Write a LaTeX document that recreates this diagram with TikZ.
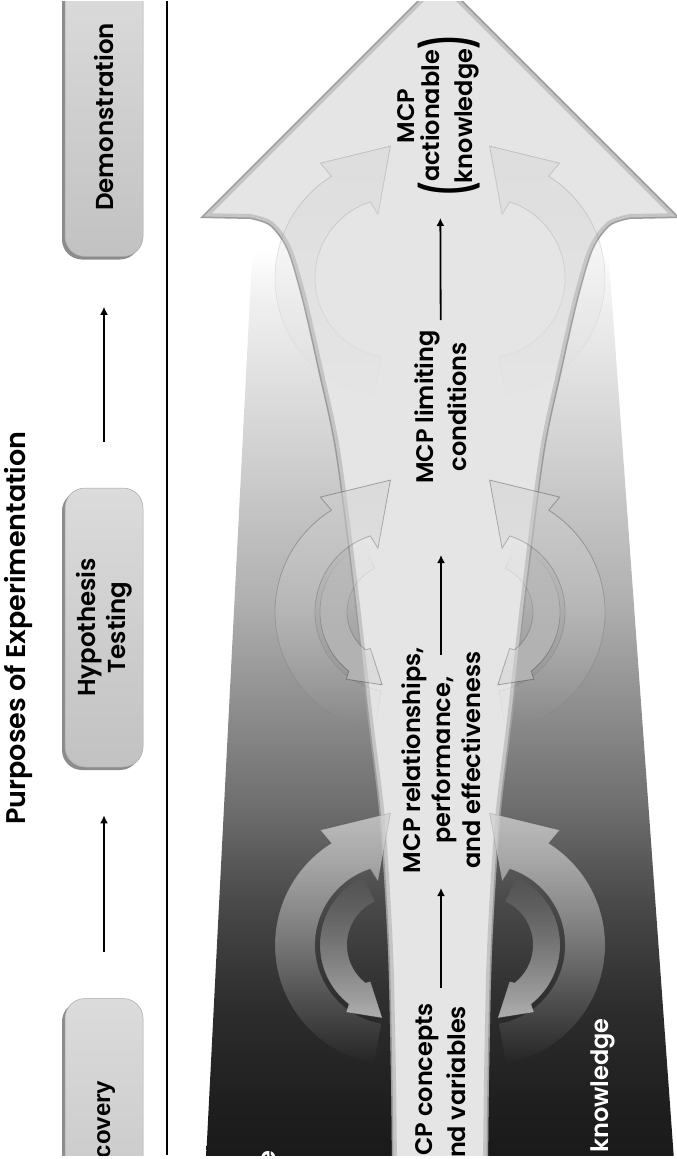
\documentclass[tikz,border=0pt]{standalone}
\usepackage{fontspec}
\setmainfont{Poppins}[UprightFont=* SemiBold, BoldFont=* Bold]
\newfontfamily\helvfont{Liberation Sans}
\usepackage{tikz}
\usetikzlibrary{arrows.meta, positioning, calc, shadows, fadings}

\newcommand\labelfont{\fontsize{24}{30}\selectfont}
\newcommand\bigparen[1]{$\vcenter{\hbox{\bfseries\scalebox{1.1}[2.3]{#1}}}$}

% background of the big arrow: white at the top, almost black at the bottom
\pgfdeclareverticalshading{bodyfade}{100bp}{color(0bp)=(black!90); color(25bp)=(black!90); color(28bp)=(black!88); color(33.4bp)=(black!82); color(38.8bp)=(black!71); color(44.1bp)=(black!56); color(54.7bp)=(black!31); color(62.7bp)=(black!18); color(70.6bp)=(black!6); color(73.3bp)=(white); color(100bp)=(white)}
\tikzfading[name=tailsouth, top color=transparent!0, middle color=transparent!0, bottom color=transparent!100]
\tikzfading[name=tailnorth, top color=transparent!100, middle color=transparent!0, bottom color=transparent!0]

\def\funnelpath{(392,1170) -- plot[smooth] coordinates {(392,1170) (391,1080) (388,950) (380,820) (368,720) (352,580) (335,450) (318,370) (302,300) (287,250) (270,226) (250,219)} -- (200,218) -- (440,-22) -- (680,218) -- plot[smooth] coordinates {(630,219) (610,226) (593,250) (578,300) (562,370) (545,450) (528,580) (512,720) (500,820) (492,950) (489,1080) (488,1170)} -- cycle}

\begin{document}
\begin{tikzpicture}[x=1pt, y=-1pt,
        stagebox/.style={rotate=90, rounded corners=20pt, minimum width=279pt, minimum height=78pt, inner sep=0pt, align=center, top color=black!14, middle color=black!7, bottom color=black!24, draw=black!35, line width=0.5pt, drop shadow={shadow xshift=-3pt, shadow yshift=-3pt, opacity=0.6, fill=black!75}, font=\fontsize{24.5}{30}\selectfont},
        lbl/.style={rotate=90, align=center, inner sep=0pt, font=\labelfont},
        flow/.style={-{Latex[length=8pt,width=8pt]}, line width=1.8pt},
        cycout/.style={fill=black!18, draw=black, line width=0.8pt, path fading=tailsouth},
        cycin/.style={fill=black!18, draw=black, line width=0.8pt, path fading=tailnorth}
    ]
    \useasboundingbox (0,0) rectangle (677,1159);
    \clip (0,1.5) rectangle (677,1155);

    % Big arrow: body and light funnel
    \shade[shading=bodyfade] (254,218) -- (606,218) -- (674,1160) -- (206,1160) -- cycle;
    \fill[black!10] \funnelpath;
    \begin{scope}
        \clip \funnelpath;
        \draw[black, opacity=0.14, line width=10pt] \funnelpath;
        \draw[black, opacity=0.2, line width=3pt] \funnelpath;
    \end{scope}

    % Cycle arrows of the two lower stages
    \foreach \cy/\op/\eo in {945/0.8/0.12, 612/0.5/0.3}{
        \foreach \side in {1,-1}{
            \begin{scope}[shift={(440,\cy)}, xscale=\side, shift={(-45,0)}]
                \path[cycout, fill opacity=\op, draw opacity=\eo] (100:120) arc[start angle=100, end angle=238, radius=120] -- (237:137) -- (268:132) -- (255:66) -- (252:80) arc[start angle=252, end angle=100, radius=80] -- cycle;
                \path[cycin, fill opacity=\op, draw opacity=\eo] (245:75) arc[start angle=245, end angle=128, radius=75] -- (126:83) -- (100:74) -- (124:44) -- (128:48) arc[start angle=128, end angle=245, radius=48] -- cycle;
            \end{scope}
        }
    }
    % Top stage
    \foreach \side in {1,-1}{
        \begin{scope}[shift={(440,278)}, xscale=\side, shift={(-45,0)}]
            \path[cycout, fill opacity=0.35, draw opacity=0.15] (100:120) arc[start angle=100, end angle=238, radius=120] -- (237:137) -- (268:132) -- (255:66) -- (252:80) arc[start angle=252, end angle=100, radius=80] -- cycle;
        \end{scope}
    }

    % Purposes column
    \node[lbl, font=\fontsize{27}{30}\selectfont] (purpose) at (18,628) {Purposes of Experimentation};
    \node[stagebox] (demo) at (104,117) {Demonstration};
    \node[stagebox] (hypo) at (104,627.5) {Hypothesis\\Testing};
    \node[stagebox, font=\helvfont\bfseries\fontsize{24}{30}\selectfont] (disc) at (104,1138) {Discovery};
    \draw[flow, shorten <=46pt, shorten >=48pt] (disc) -- (hypo);
    \draw[flow, shorten <=46pt, shorten >=50pt] (hypo) -- (demo);
    \draw[line width=2pt] (167,0) -- (167,1155);

    % Labels inside the big arrow
    \node[lbl, anchor=east, font=\fontsize{24}{33}\selectfont] (concepts) at (441,1003) {MCP concepts\\and variables};
    \node[lbl] (relations) at (441,760) {MCP relationships,\\performance,\\and effectiveness};
    \node[lbl, font=\fontsize{24}{33}\selectfont] (limits) at (441,407) {MCP limiting\\conditions};
    \node[lbl, font=\fontsize{24}{33}\selectfont] (actionable) at (440,116) {MCP\\\bigparen{(}\begin{tabular}{@{}c@{}}actionable\\knowledge\end{tabular}\bigparen{)}};
    \node[lbl, white, anchor=east] (knowright) at (603,1018) {knowledge};
    \node[lbl, white, anchor=east] (knowleft) at (270,1150) {knowledge};

    \draw[flow, shorten <=15pt, shorten >=128pt] (concepts.east) -- (relations.center);
    \draw[flow, shorten <=105pt, shorten >=148pt] (relations.center) -- (limits.center);
    \draw[flow, shorten <=87pt, shorten >=102pt] (limits.center) -- (actionable.center);
\end{tikzpicture}
\end{document}
